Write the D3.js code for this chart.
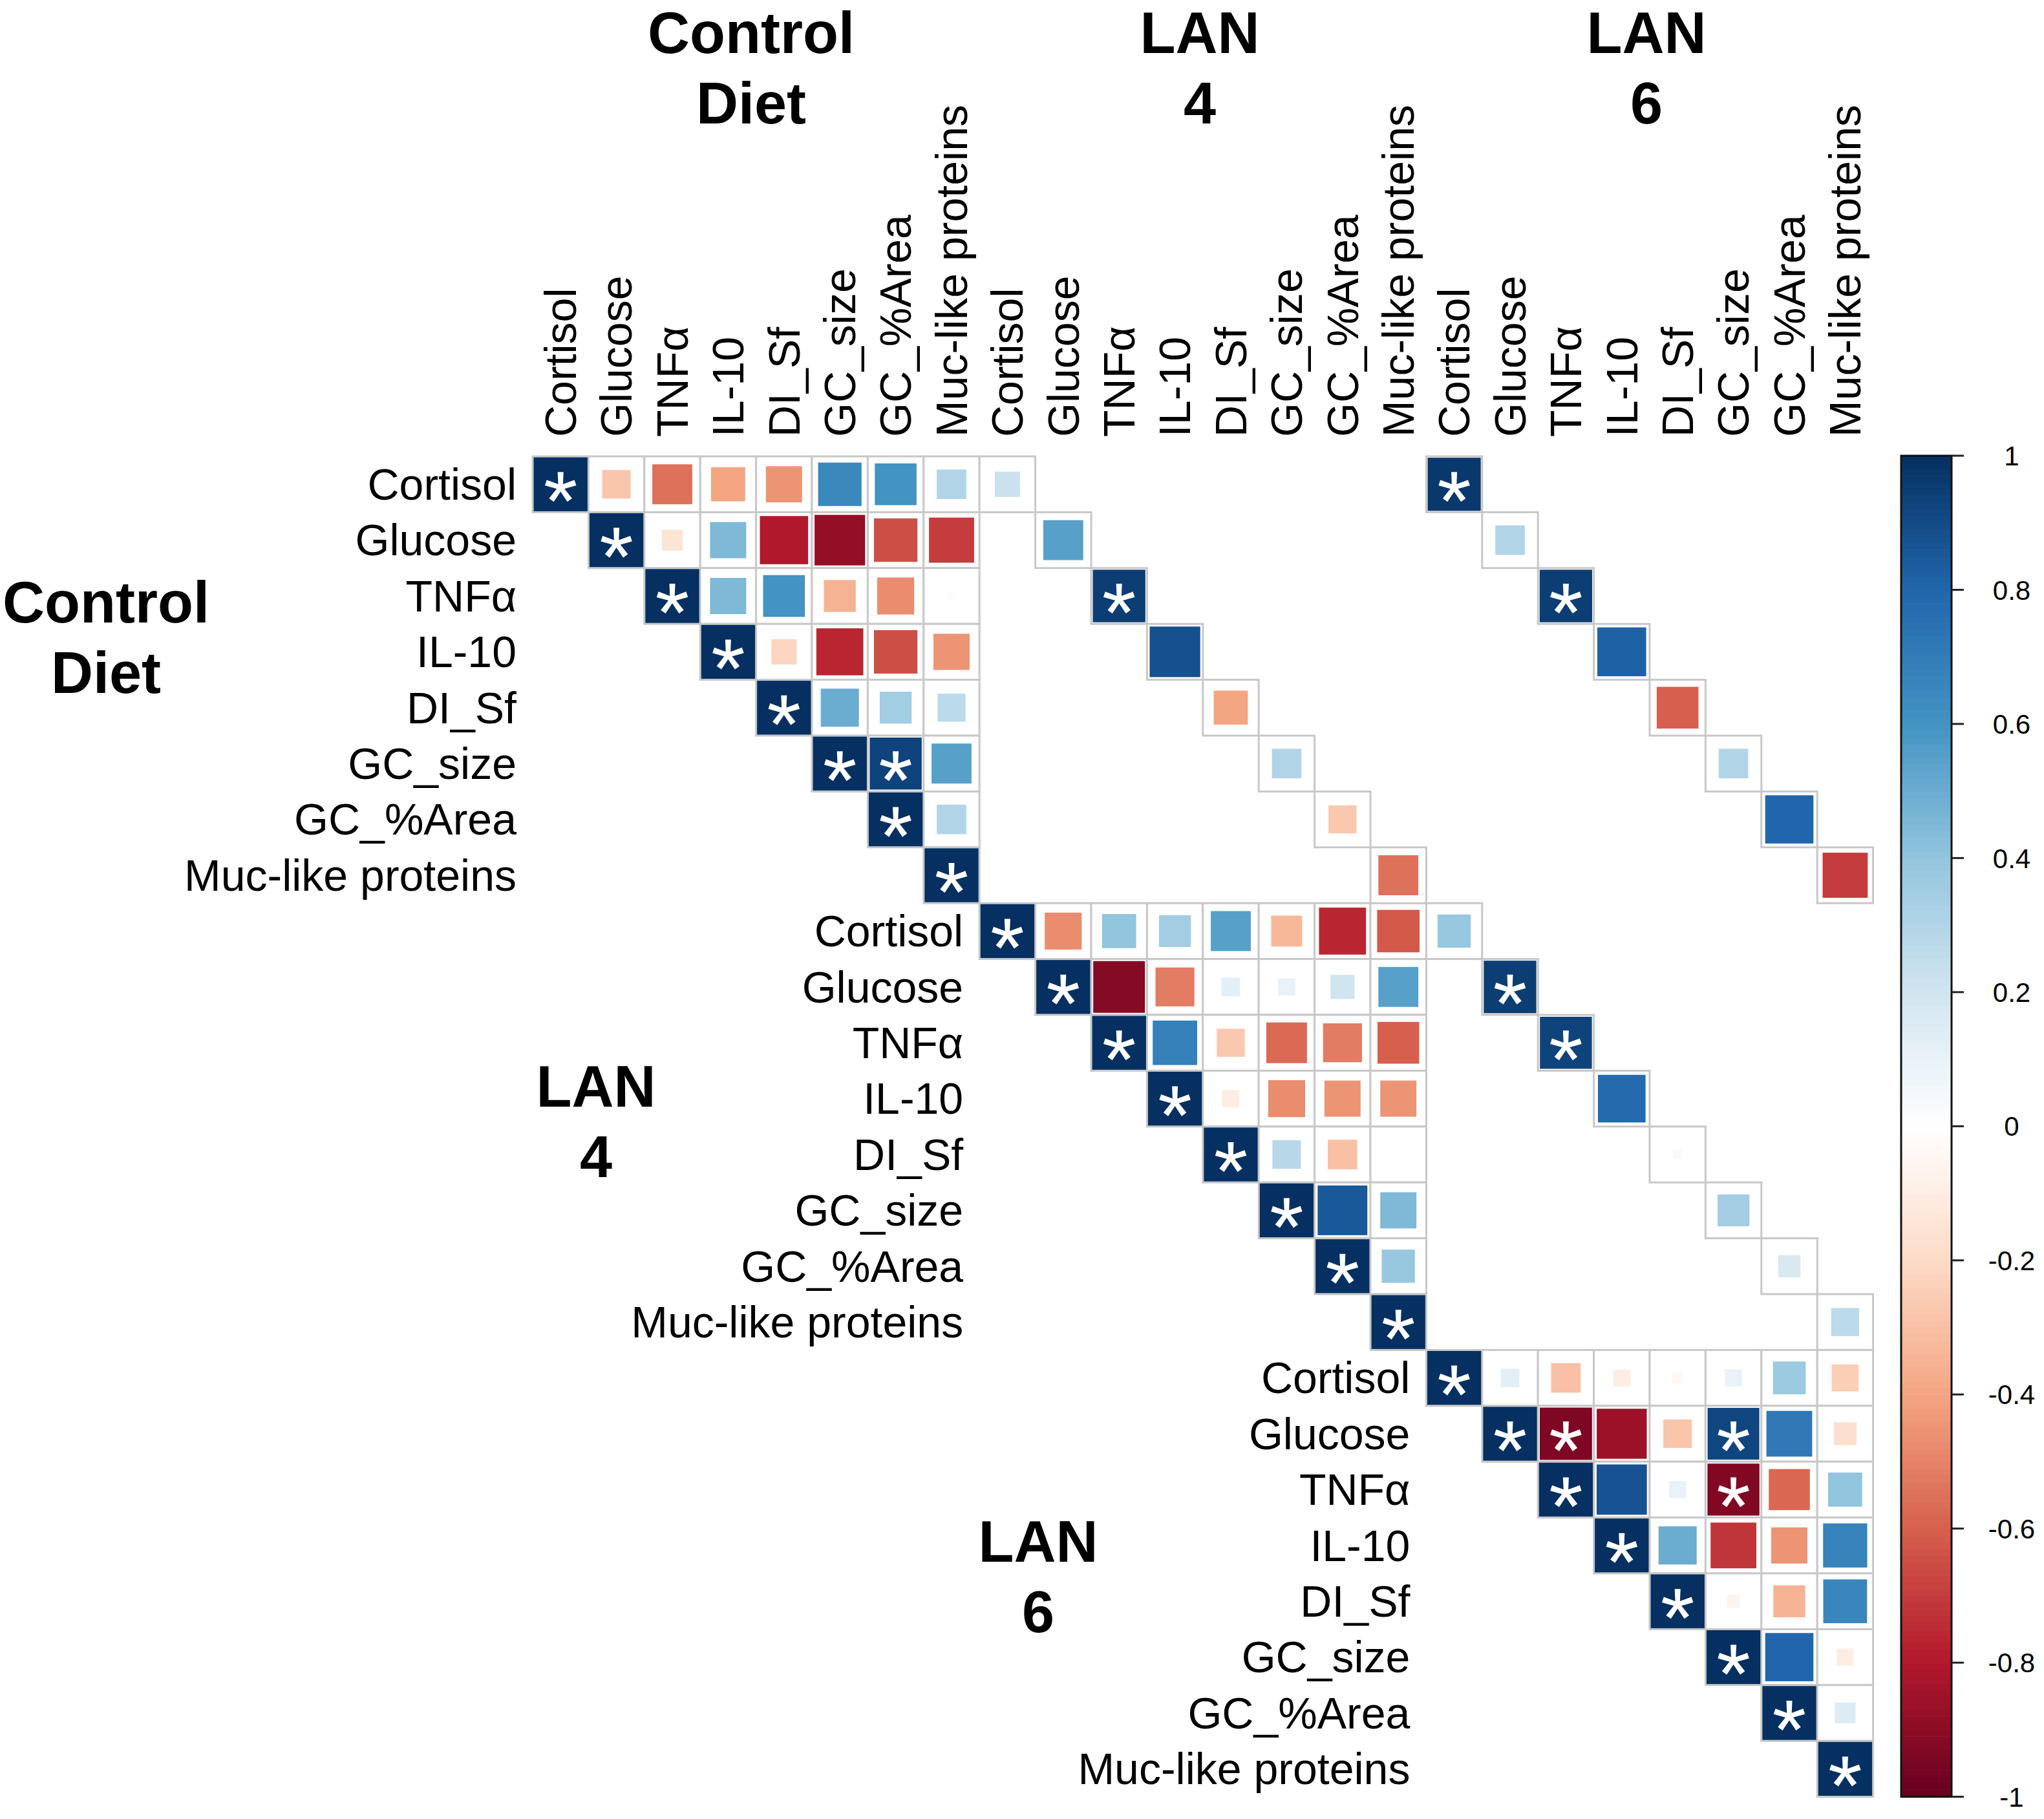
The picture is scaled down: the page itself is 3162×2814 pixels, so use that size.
<!DOCTYPE html>
<html>
<head>
<meta charset="utf-8">
<script src="https://cdn.jsdelivr.net/npm/d3@7/dist/d3.min.js"></script>
<style>
html,body{margin:0;padding:0;background:#fff;}
svg{display:block;}
text{font-family:"Liberation Sans", Arial, sans-serif;}
</style>
</head>
<body>
<svg id="chart" width="3162" height="2814"></svg>
<script>
// ---------- DATA ----------
const variables = ["Cortisol","Glucose","TNFα","IL-10","DI_Sf","GC_size","GC_%Area","Muc-like proteins"];
const groupTitles = [["Control","Diet"],["LAN","4"],["LAN","6"]];

// within-group upper triangles (row i, columns i+1..7)
const cdUpper = [
  [-0.28,-0.55,-0.40,-0.45, 0.65, 0.60, 0.30],
  [-0.15, 0.45,-0.80,-0.88,-0.65,-0.70],
  [ 0.45, 0.60,-0.35,-0.47,-0.02],
  [-0.22,-0.76,-0.65,-0.45],
  [ 0.50, 0.35, 0.27],
  [ 0.93, 0.55],
  [ 0.30]
];
const lan4Upper = [
  [-0.47, 0.40, 0.35, 0.55,-0.33,-0.76,-0.62],
  [-0.92,-0.52, 0.12, 0.10, 0.20, 0.55],
  [ 0.68,-0.27,-0.57,-0.52,-0.60],
  [-0.10,-0.47,-0.45,-0.45],
  [ 0.28,-0.30, 0.01],
  [ 0.85, 0.45],
  [ 0.38]
];
const lan6Upper = [
  [ 0.12,-0.30,-0.10,-0.04, 0.10, 0.37,-0.25],
  [-0.94,-0.86,-0.28, 0.92, 0.72,-0.18],
  [ 0.87, 0.10,-0.93,-0.58, 0.40],
  [ 0.50,-0.72,-0.45, 0.67],
  [-0.06,-0.35, 0.66],
  [ 0.80,-0.10],
  [ 0.15]
];
// significant pairs within groups [row, col]
const cdSig = [[5,6]];
const lan4Sig = [];
const lan6Sig = [[1,2],[1,5],[2,5]];

// cross-group, same-variable diagonals
const cdLan4Diag  = [0.22, 0.55, 0.95, 0.88,-0.40, 0.30,-0.27,-0.55];
const cdLan6Diag  = [0.97, 0.30, 0.95, 0.82,-0.60, 0.30, 0.80,-0.70];
const lan4Lan6Diag= [0.38, 0.95, 0.93, 0.78, 0.03, 0.35, 0.17, 0.27];
const cdLan4Sig = [2];
const cdLan6Sig = [0,2];
const lan4Lan6Sig = [1,2];

const colorbarTicks = [1,0.8,0.6,0.4,0.2,0,-0.2,-0.4,-0.6,-0.8,-1];
const paletteStops = ["#67001F","#B2182B","#D6604D","#F4A582","#FDDBC7","#FFFFFF","#D1E5F0","#92C5DE","#4393C3","#2166AC","#053061"];

// ---------- BUILD CELLS ----------
const n = variables.length;
const cells = [];
function addUpper(upper, sig, g){
  for(let i=0;i<n;i++){
    cells.push({r:g*n+i, c:g*n+i, v:1, sig:true});
    for(let j=i+1;j<n;j++){
      const s = sig.some(p=>p[0]===i&&p[1]===j);
      cells.push({r:g*n+i, c:g*n+j, v:upper[i][j-i-1], sig:s});
    }
  }
}
addUpper(cdUpper, cdSig, 0);
addUpper(lan4Upper, lan4Sig, 1);
addUpper(lan6Upper, lan6Sig, 2);
function addDiag(vals, sig, g1, g2){
  vals.forEach((v,i)=>cells.push({r:g1*n+i, c:g2*n+i, v:v, sig:sig.includes(i)}));
}
addDiag(cdLan4Diag, cdLan4Sig, 0, 1);
addDiag(cdLan6Diag, cdLan6Sig, 0, 2);
addDiag(lan4Lan6Diag, lan4Lan6Sig, 1, 2);

// ---------- SCALES ----------
const N = 3*n;
const gridLeft = 824, gridTop = 706, cell = 86.4;
const idx = d3.range(N);
const x = d3.scaleBand().domain(idx).range([gridLeft, gridLeft+N*cell]);
const y = d3.scaleBand().domain(idx).range([gridTop, gridTop+N*cell]);
const color = d3.scaleLinear()
  .domain(d3.range(paletteStops.length).map(i=>-1+2*i/(paletteStops.length-1)))
  .range(paletteStops).interpolate(d3.interpolateRgb).clamp(true);
const sizeScale = d3.scaleSqrt().domain([0,1]).range([0, cell-3]);

const svg = d3.select("#chart");

// grid
svg.append("g").selectAll("rect").data(cells).join("rect")
  .attr("x", d=>x(d.c)).attr("y", d=>y(d.r))
  .attr("width", cell).attr("height", cell)
  .attr("fill","#fff").attr("stroke","#c8c8c8").attr("stroke-width",3);

// squares
svg.append("g").selectAll("rect").data(cells).join("rect")
  .attr("x", d=>x(d.c)+cell/2-sizeScale(Math.abs(d.v))/2)
  .attr("y", d=>y(d.r)+cell/2-sizeScale(Math.abs(d.v))/2)
  .attr("width", d=>sizeScale(Math.abs(d.v)))
  .attr("height", d=>sizeScale(Math.abs(d.v)))
  .attr("fill", d=>color(d.v));

// significance asterisks (5-armed marker)
function asteriskPath(L, w0, w1){
  const p = d3.path();
  for(let k=0;k<5;k++){
    const a = -Math.PI/2 + k*2*Math.PI/5;
    const ux = Math.cos(a), uy = Math.sin(a), px = -uy, py = ux;
    p.moveTo(px*w0/2, py*w0/2);
    p.lineTo(ux*L + px*w1/2, uy*L + py*w1/2);
    p.lineTo(ux*L - px*w1/2, uy*L - py*w1/2);
    p.lineTo(-px*w0/2, -py*w0/2);
    p.closePath();
  }
  return p.toString();
}
const starD = asteriskPath(24, 7, 9);
svg.append("g").selectAll("path").data(cells.filter(d=>d.sig)).join("path")
  .attr("transform", d=>`translate(${x(d.c)+cell/2},${y(d.r)+cell/2+5})`)
  .attr("d", starD)
  .attr("fill","#fff");

// column labels
const labelSize = 68;
svg.append("g").selectAll("text").data(idx).join("text")
  .attr("transform", d=>`translate(${x(d)+cell/2},676) rotate(-90)`)
  .attr("dy","0.35em")
  .attr("text-anchor","start")
  .attr("font-size", labelSize)
  .attr("fill","#000")
  .text(d=>variables[d%n]);

// row labels (placed left of each group's block)
svg.append("g").selectAll("text").data(idx).join("text")
  .attr("x", d=>x(Math.floor(d/n)*n)-25)
  .attr("y", d=>y(d)+cell/2)
  .attr("dy","0.35em")
  .attr("text-anchor","end")
  .attr("font-size", labelSize)
  .attr("fill","#000")
  .text(d=>variables[d%n]);

// group titles
const titleSize = 90;
const topTitleX = [1162, 1856, 2547];
const leftTitlePos = [[164, 963], [922, 1712], [1606, 2416]];
const tg = svg.append("g").attr("font-weight","bold").attr("font-size",titleSize).attr("text-anchor","middle");
groupTitles.forEach((lines,g)=>{
  lines.forEach((t,k)=>{
    tg.append("text").attr("x", topTitleX[g]).attr("y", 82+k*109).text(t);
    tg.append("text").attr("x", leftTitlePos[g][0]).attr("y", leftTitlePos[g][1]+k*109).text(t);
  });
});

// ---------- COLORBAR ----------
const cbX = 2941, cbW = 78;
const cbY = d3.scaleLinear().domain([1,-1]).range([gridTop-1, gridTop+N*cell]);
const steps = d3.range(200).map(i=>-1+(i+0.5)*2/200);
svg.append("g").selectAll("rect").data(steps).join("rect")
  .attr("x", cbX).attr("width", cbW)
  .attr("y", d=>cbY(d+1/200))
  .attr("height", cbY(-1)-cbY(-1+2/200)+0.6)
  .attr("fill", d=>color(d));
svg.append("rect").attr("x",cbX).attr("y",cbY(1)).attr("width",cbW).attr("height",cbY(-1)-cbY(1))
  .attr("fill","none").attr("stroke","#111").attr("stroke-width",3);
const cbAxis = svg.append("g");
cbAxis.selectAll("line").data(colorbarTicks).join("line")
  .attr("x1", cbX+cbW).attr("x2", cbX+cbW+19)
  .attr("y1", d=>cbY(d)).attr("y2", d=>cbY(d))
  .attr("stroke","#222").attr("stroke-width",3);
cbAxis.selectAll("text").data(colorbarTicks).join("text")
  .attr("x", 3112).attr("y", d=>Math.min(cbY(d), 2780))
  .attr("dy","0.36em").attr("text-anchor","middle")
  .attr("font-size",42).attr("fill","#000")
  .text(d=>d3.format("")(d).replace("−","-"));
</script>
</body>
</html>
